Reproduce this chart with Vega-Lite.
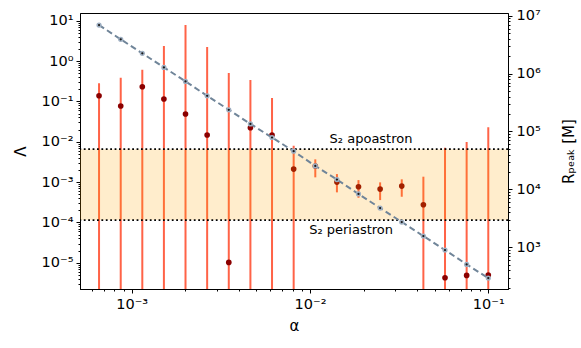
{
  "$schema": "https://vega.github.io/schema/vega-lite/v6.json",
  "width": 428,
  "height": 276,
  "autosize": {"type": "none"},
  "padding": {"left": 80, "top": 13, "right": 73, "bottom": 59},
  "background": "white",
  "datasets": {
    "fit": [
      {"alpha": 0.000656, "lam": 0.138, "lam_lo": 1e-9, "lam_hi": 0.281},
      {"alpha": 0.000868, "lam": 0.0767, "lam_lo": 1e-9, "lam_hi": 0.386},
      {"alpha": 0.001147, "lam": 0.231, "lam_lo": 1e-9, "lam_hi": 0.61},
      {"alpha": 0.001516, "lam": 0.1145, "lam_lo": 1e-9, "lam_hi": 2.36},
      {"alpha": 0.002004, "lam": 0.0486, "lam_lo": 1e-9, "lam_hi": 7.8},
      {"alpha": 0.00265, "lam": 0.01466, "lam_lo": 1e-9, "lam_hi": 2.23},
      {"alpha": 0.003504, "lam": 1.02e-5, "lam_lo": 1e-9, "lam_hi": 0.505},
      {"alpha": 0.004633, "lam": 0.0222, "lam_lo": 1e-9, "lam_hi": 0.339},
      {"alpha": 0.006125, "lam": 0.0147, "lam_lo": 1e-9, "lam_hi": 0.121},
      {"alpha": 0.0081, "lam": 0.0021, "lam_lo": 1e-9, "lam_hi": 0.00796},
      {"alpha": 0.01071, "lam": 0.0025, "lam_lo": 0.00131, "lam_hi": 0.00366},
      {"alpha": 0.01416, "lam": 0.001, "lam_lo": 0.000556, "lam_hi": 0.00158},
      {"alpha": 0.01871, "lam": 0.000766, "lam_lo": 0.000408, "lam_hi": 0.00112},
      {"alpha": 0.02474, "lam": 0.000671, "lam_lo": 0.000358, "lam_hi": 0.000984},
      {"alpha": 0.03271, "lam": 0.000796, "lam_lo": 0.000433, "lam_hi": 0.00117},
      {"alpha": 0.04325, "lam": 0.000274, "lam_lo": 1e-9, "lam_hi": 0.00136},
      {"alpha": 0.05719, "lam": 4.25e-6, "lam_lo": 1e-9, "lam_hi": 0.0071},
      {"alpha": 0.07562, "lam": 4.86e-6, "lam_lo": 1e-9, "lam_hi": 0.0098},
      {"alpha": 0.1, "lam": 4.95e-6, "lam_lo": 1e-9, "lam_hi": 0.0228}
    ],
    "rpeak": [
      {"alpha": 0.000656, "R": 6900000},
      {"alpha": 0.000868, "R": 3910000},
      {"alpha": 0.001147, "R": 2240000},
      {"alpha": 0.001516, "R": 1280000},
      {"alpha": 0.002004, "R": 733000},
      {"alpha": 0.00265, "R": 413000},
      {"alpha": 0.003504, "R": 237000},
      {"alpha": 0.004633, "R": 135000},
      {"alpha": 0.006125, "R": 78700},
      {"alpha": 0.0081, "R": 45600},
      {"alpha": 0.01071, "R": 25400},
      {"alpha": 0.01416, "R": 14800},
      {"alpha": 0.01871, "R": 8320},
      {"alpha": 0.02474, "R": 4760},
      {"alpha": 0.03271, "R": 2730},
      {"alpha": 0.04325, "R": 1560},
      {"alpha": 0.05719, "R": 895},
      {"alpha": 0.07562, "R": 506},
      {"alpha": 0.1, "R": 293}
    ],
    "band": [{"R_lo": 2950, "R_hi": 49400}],
    "s2": [
      {"orbit": "apoastron", "R": 49400, "alpha": 0.022, "label": "S₂ apoastron"},
      {"orbit": "periastron", "R": 2950, "alpha": 0.017, "label": "S₂ periastron"}
    ]
  },
  "resolve": {"scale": {"y": "independent"}},
  "layer": [
    {
      "layer": [
        {
          "data": {"name": "fit"},
          "mark": {"type": "rule", "color": "#ff6347", "strokeWidth": 2, "clip": true},
          "encoding": {
            "x": {
              "field": "alpha", "type": "quantitative",
              "scale": {"type": "log", "domain": [0.000513, 0.129], "nice": false},
              "axis": {
                "title": "α",
                "titlePadding": 8,
                "values": [0.0006, 0.0007, 0.0008, 0.0009, 0.001, 0.002, 0.003, 0.004, 0.005, 0.006, 0.007, 0.008, 0.009, 0.01, 0.02, 0.03, 0.04, 0.05, 0.06, 0.07, 0.08, 0.09, 0.1],
                "labelExpr": "abs(log(datum.value)/LN10 - round(log(datum.value)/LN10)) < 0.001 ? '10' + (round(log(datum.value)/LN10) < 0 ? '⁻' : '') + slice('⁰¹²³⁴⁵⁶⁷⁸⁹', abs(round(log(datum.value)/LN10)), abs(round(log(datum.value)/LN10)) + 1) : ''",
                "tickSize": {"condition": {"test": "abs(log(datum.value)/LN10 - round(log(datum.value)/LN10)) < 0.001", "value": 4}, "value": 2},
                "labelPadding": 4,
                "labelOverlap": false,
                "labelFlush": false
              }
            },
            "y": {
              "field": "lam_lo", "type": "quantitative",
              "scale": {"type": "log", "domain": [2.24e-6, 15.5], "nice": false},
              "axis": {
                "title": "Λ",
                "orient": "left",
                "titlePadding": 13,
                "values": [3e-6, 4e-6, 5e-6, 6e-6, 7e-6, 8e-6, 9e-6, 1e-5, 2e-5, 3e-5, 4e-5, 5e-5, 6e-5, 7e-5, 8e-5, 9e-5, 1e-4, 2e-4, 3e-4, 4e-4, 5e-4, 6e-4, 7e-4, 8e-4, 9e-4, 1e-3, 2e-3, 3e-3, 4e-3, 5e-3, 6e-3, 7e-3, 8e-3, 9e-3, 0.01, 0.02, 0.03, 0.04, 0.05, 0.06, 0.07, 0.08, 0.09, 0.1, 0.2, 0.3, 0.4, 0.5, 0.6, 0.7, 0.8, 0.9, 1, 2, 3, 4, 5, 6, 7, 8, 9, 10],
                "labelExpr": "abs(log(datum.value)/LN10 - round(log(datum.value)/LN10)) < 0.001 ? '10' + (round(log(datum.value)/LN10) < 0 ? '⁻' : '') + slice('⁰¹²³⁴⁵⁶⁷⁸⁹', abs(round(log(datum.value)/LN10)), abs(round(log(datum.value)/LN10)) + 1) : ''",
                "tickSize": {"condition": {"test": "abs(log(datum.value)/LN10 - round(log(datum.value)/LN10)) < 0.001", "value": 4}, "value": 2},
                "labelPadding": 3,
                "labelOverlap": false,
                "labelFlush": false
              }
            },
            "y2": {"field": "lam_hi"}
          }
        },
        {
          "data": {"name": "fit"},
          "mark": {"type": "point", "filled": true, "color": "#8b0000", "size": 32, "opacity": 1},
          "encoding": {
            "x": {"field": "alpha", "type": "quantitative"},
            "y": {"field": "lam", "type": "quantitative"}
          }
        }
      ]
    },
    {
      "layer": [
        {
          "data": {"name": "band"},
          "mark": {"type": "rect", "color": "orange", "opacity": 0.2},
          "encoding": {
            "y": {
              "field": "R_lo", "type": "quantitative",
              "scale": {"type": "log", "domain": [190, 11140000], "nice": false},
              "axis": {
                "title": "Rₚₑₐₖ [M]",
                "orient": "right",
                "titleAngle": -90,
                "titlePadding": 36,
                "values": [200, 300, 400, 500, 600, 700, 800, 900, 1000, 2000, 3000, 4000, 5000, 6000, 7000, 8000, 9000, 10000, 20000, 30000, 40000, 50000, 60000, 70000, 80000, 90000, 100000, 200000, 300000, 400000, 500000, 600000, 700000, 800000, 900000, 1000000, 2000000, 3000000, 4000000, 5000000, 6000000, 7000000, 8000000, 9000000, 10000000],
                "labelExpr": "abs(log(datum.value)/LN10 - round(log(datum.value)/LN10)) < 0.001 ? '10' + (round(log(datum.value)/LN10) < 0 ? '⁻' : '') + slice('⁰¹²³⁴⁵⁶⁷⁸⁹', abs(round(log(datum.value)/LN10)), abs(round(log(datum.value)/LN10)) + 1) : ''",
                "tickSize": {"condition": {"test": "abs(log(datum.value)/LN10 - round(log(datum.value)/LN10)) < 0.001", "value": 4}, "value": 2},
                "labelPadding": 4,
                "labelOverlap": false,
                "labelFlush": false
              }
            },
            "y2": {"field": "R_hi"}
          }
        },
        {
          "data": {"name": "s2"},
          "mark": {"type": "rule", "color": "black", "strokeWidth": 1.8, "strokeDash": [1.8, 2.6]},
          "encoding": {
            "y": {"field": "R", "type": "quantitative"}
          }
        },
        {
          "data": {"name": "rpeak"},
          "mark": {"type": "line", "color": "#708599", "strokeWidth": 2, "strokeDash": [6, 3.5]},
          "encoding": {
            "x": {"field": "alpha", "type": "quantitative"},
            "y": {"field": "R", "type": "quantitative"}
          }
        },
        {
          "data": {"name": "rpeak"},
          "mark": {"type": "point", "filled": true, "fill": "#1a1a1a", "stroke": "#9fb0c3", "strokeWidth": 1.5, "size": 14, "opacity": 1},
          "encoding": {
            "x": {"field": "alpha", "type": "quantitative"},
            "y": {"field": "R", "type": "quantitative"}
          }
        },
        {
          "data": {"name": "s2"},
          "transform": [{"filter": "datum.orbit === 'apoastron'"}],
          "mark": {"type": "text", "fontSize": 13, "font": "DejaVu Sans", "color": "black", "align": "center", "baseline": "alphabetic", "dy": -6},
          "encoding": {
            "x": {"field": "alpha", "type": "quantitative"},
            "y": {"field": "R", "type": "quantitative"},
            "text": {"field": "label"}
          }
        },
        {
          "data": {"name": "s2"},
          "transform": [{"filter": "datum.orbit === 'periastron'"}],
          "mark": {"type": "text", "fontSize": 13, "font": "DejaVu Sans", "color": "black", "align": "center", "baseline": "top", "dy": 4},
          "encoding": {
            "x": {"field": "alpha", "type": "quantitative"},
            "y": {"field": "R", "type": "quantitative"},
            "text": {"field": "label"}
          }
        }
      ]
    }
  ],
  "config": {
    "font": "DejaVu Sans",
    "view": {"stroke": "black", "strokeWidth": 1},
    "axis": {
      "grid": false,
      "domainColor": "black",
      "domainWidth": 1,
      "tickColor": "black",
      "tickWidth": 1,
      "labelColor": "black",
      "titleColor": "black",
      "labelFont": "DejaVu Sans",
      "titleFont": "DejaVu Sans",
      "labelFontSize": 14.5,
      "titleFontSize": 15,
      "titleFontWeight": "normal"
    }
  }
}
